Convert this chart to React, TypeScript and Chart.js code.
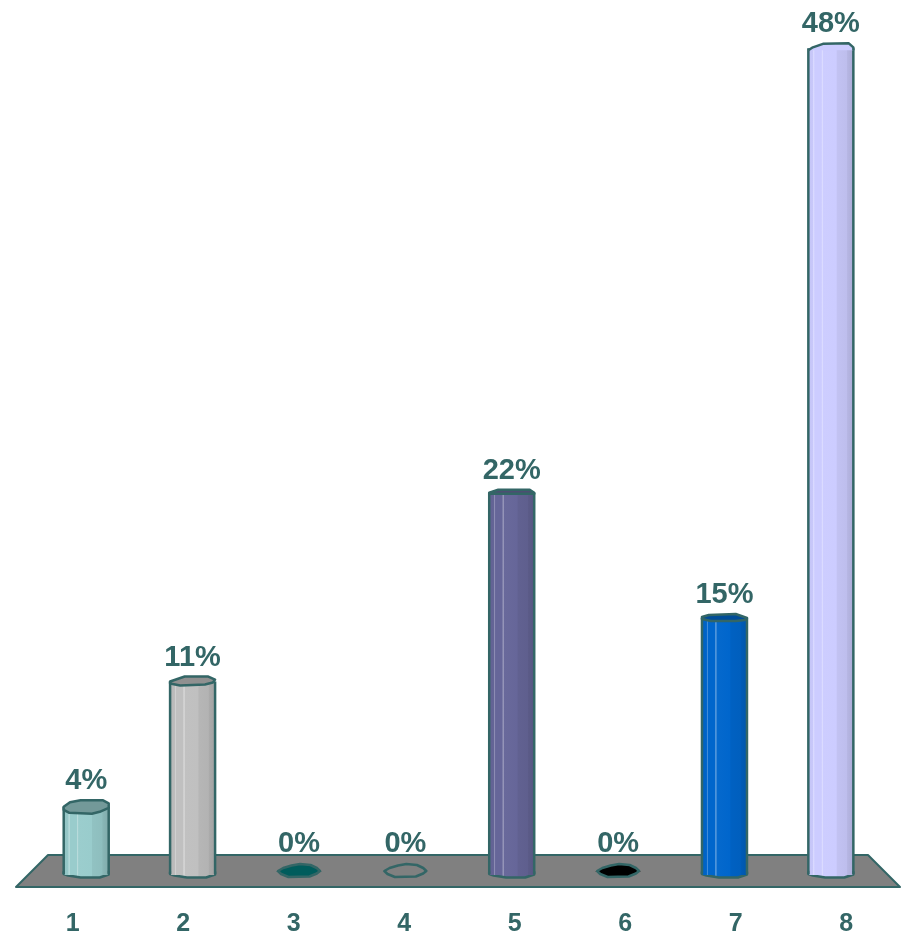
import React, { useEffect, useRef } from "react";
import { Chart, registerables } from "chart.js";

Chart.register(...registerables);

const categories = ["1", "2", "3", "4", "5", "6", "7", "8"];
const barIndex = [1, 2, 3, 4, 5, 6, 7, 8];
const seriesValues = [3.8, 11.1, 0, 0, 22.1, 0, 14.8, 48];
const barColors = ["#99CCCC", "#C0C0C0", "#005C5C", "#808080", "#666699", "#000000", "#0066CC", "#CCCCFF"];
const capColors = ["#739999", "#909090", "#005C5C", "#808080", "#4D4D73", "#000000", "#004D99", "#CCCCFF"];

const INK = "#336666";
const FONT = '"Liberation Sans", Arial, sans-serif';
const LAST_OPEN = 7; // the tallest bar's cap has no lower rim

// Cap outlines: [fraction of half width from centre, px from bar top]
const capShapes: [number, number][][] = [
  [[-1, 0], [-0.72, -4.5], [-0.25, -6.5], [0.75, -6.5], [1, -3.5], [1, 1], [0.6, 5], [0.25, 7], [-0.75, 6], [-1, 3]],
  [[-1, 0], [-0.35, -5], [0.7, -5], [1, -2], [0.9, 1], [0.55, 3], [-0.55, 4], [-1, 2]],
  [],
  [],
  [[-1, 0], [-0.6, -3], [0.8, -3], [1, 0], [1, 1], [-1, 1]],
  [],
  [[-1, -1], [-0.7, -3], [0.5, -4], [1, 0], [0.9, 2], [0.5, 3], [-0.6, 3], [-1, 1]],
  [[-1, 2], [-0.8, -1], [-0.35, -4.5], [0.8, -5], [1, -1], [1, 2]],
];
const flatShape: [number, number][] = [
  [-1, -1], [-0.75, -4], [-0.35, -6.5], [0.05, -8], [0.55, -7], [0.85, -4], [1, -1], [0.85, 1.5], [0.5, 4.5], [-0.5, 5], [-0.85, 2],
];
const baseShape: [number, number][] = [[-1, 0], [-1, 2], [-0.8, 3.5], [-0.25, 5.5], [0.6, 5.5], [1, 2.5], [1, 0]];

function shade(hex: string, f: number) {
  const n = parseInt(hex.slice(1), 16);
  const c = [(n >> 16) & 255, (n >> 8) & 255, n & 255].map((v) =>
    Math.round(f > 1 ? v + (255 - v) * (f - 1) : v * f)
  );
  return `rgb(${c[0]},${c[1]},${c[2]})`;
}

function bodyGradient(ctx: CanvasRenderingContext2D, cx: number, half: number, color: string) {
  const g = ctx.createLinearGradient(cx - half, 0, cx + half, 0);
  const stops: [number, number][] = [
    [0, 0.96], [0.1, 0.98], [0.11, 1.25], [0.13, 1.25], [0.14, 1.0], [0.29, 1.0], [0.3, 1.3], [0.32, 1.3], [0.33, 1.02],
    [0.62, 1.0], [0.64, 0.95], [0.85, 0.93], [0.87, 0.89], [1, 0.84],
  ];
  stops.forEach(([p, f]) => g.addColorStop(p, shade(color, f)));
  return g;
}

function poly(ctx: CanvasRenderingContext2D, cx: number, y: number, half: number, pts: [number, number][], closed = true) {
  ctx.beginPath();
  pts.forEach(([fx, dy], i) => {
    const px = cx + fx * half;
    if (i === 0) ctx.moveTo(px, y + dy);
    else ctx.lineTo(px, y + dy);
  });
  if (closed) ctx.closePath();
}

const floorPlugin = {
  id: "floorAndCaps",
  beforeDatasetsDraw(chart: any) {
    const { ctx, chartArea } = chart;
    const base = chartArea.bottom;
    ctx.save();
    ctx.beginPath();
    ctx.moveTo(chartArea.left, base + 15);
    ctx.lineTo(chartArea.left + 32, base - 17);
    ctx.lineTo(chartArea.right - 32, base - 17);
    ctx.lineTo(chartArea.right, base + 15);
    ctx.closePath();
    ctx.fillStyle = "#808080";
    ctx.fill();
    ctx.strokeStyle = INK;
    ctx.lineWidth = 2;
    ctx.lineJoin = "round";
    ctx.stroke();
    ctx.restore();
  },
  afterDatasetsDraw(chart: any) {
    const { ctx, chartArea } = chart;
    const base = chartArea.bottom;
    const meta = chart.getDatasetMeta(0);
    ctx.save();
    ctx.strokeStyle = INK;
    ctx.lineWidth = 2.5;
    ctx.lineJoin = "round";
    meta.data.forEach((bar: any, i: number) => {
      const v = seriesValues[i];
      const half = bar.width / 2;
      const cx = bar.x;
      let capTop: number;
      if (v === 0) {
        poly(ctx, cx, base, half - 1.5, flatShape);
        ctx.fillStyle = barColors[i];
        ctx.fill();
        ctx.stroke();
        capTop = base - 9;
      } else {
        poly(ctx, cx, base, half, baseShape);
        ctx.fillStyle = bodyGradient(ctx, cx, half, barColors[i]);
        ctx.fill();
        ctx.stroke();
        ctx.fillRect(cx - half + 1, base - 3, half * 2 - 2, 6);
        ctx.beginPath();
        ctx.moveTo(cx - half, bar.y);
        ctx.lineTo(cx - half, base + 2);
        ctx.moveTo(cx + half, bar.y);
        ctx.lineTo(cx + half, base + 2);
        ctx.stroke();
        const shape = capShapes[i];
        poly(ctx, cx, bar.y, half, shape);
        ctx.fillStyle = capColors[i];
        ctx.fill();
        poly(ctx, cx, bar.y, half, shape, i !== LAST_OPEN);
        ctx.stroke();
        capTop = bar.y + Math.min(...shape.map((p) => p[1]));
      }
      ctx.fillStyle = INK;
      ctx.font = `bold 29px ${FONT}`;
      ctx.textAlign = "center";
      ctx.textBaseline = "alphabetic";
      ctx.fillText(`${Math.round(v)}%`, cx, capTop - 11);
    });
    ctx.restore();
  },
};

export default function App() {
  const ref = useRef<HTMLCanvasElement>(null);
  useEffect(() => {
    const chart = new Chart(ref.current as HTMLCanvasElement, {
      type: "bar",
      data: {
        datasets: [
          {
            xAxisID: "xBars",
            yAxisID: "y",
            data: seriesValues.map((v, i) => ({ x: barIndex[i], y: v })),
            barThickness: 45,
            borderWidth: 0,
            backgroundColor: (c: any) => {
              const s = c.chart.scales.xBars;
              if (!s || c.dataIndex === undefined) return "#808080";
              const cx = s.getPixelForValue(barIndex[c.dataIndex]);
              if (!Number.isFinite(cx)) return barColors[c.dataIndex];
              return bodyGradient(c.chart.ctx, cx, 22.5, barColors[c.dataIndex]);
            },
          },
        ],
      } as any,
      options: {
        responsive: false,
        animation: false,
        devicePixelRatio: 1,
        layout: { padding: { left: 16, right: 2, top: 14, bottom: 0 } },
        plugins: { legend: { display: false }, tooltip: { enabled: false } },
        scales: {
          x: {
            type: "category",
            labels: categories,
            offset: true,
            position: "bottom",
            grid: { display: false, drawTicks: false },
            border: { display: false },
            ticks: {
              color: INK,
              font: { family: FONT, size: 25, weight: "bold" },
              padding: 37,
              labelOffset: 1.5,
              maxRotation: 0,
              autoSkip: false,
            },
            afterFit: (s: any) => {
              s.height = 60;
            },
          },
          xBars: { type: "linear", display: false, offset: false, min: 0.34, max: 8.65 },
          y: { type: "linear", display: false, min: 0, max: 50 },
        },
      } as any,
      plugins: [floorPlugin],
    });
    return () => chart.destroy();
  }, []);
  return (
    <div style={{ position: "absolute", left: 0, top: 0, background: "#fff" }}>
      <canvas ref={ref} width={902} height={932} style={{ display: "block" }} />
    </div>
  );
}
